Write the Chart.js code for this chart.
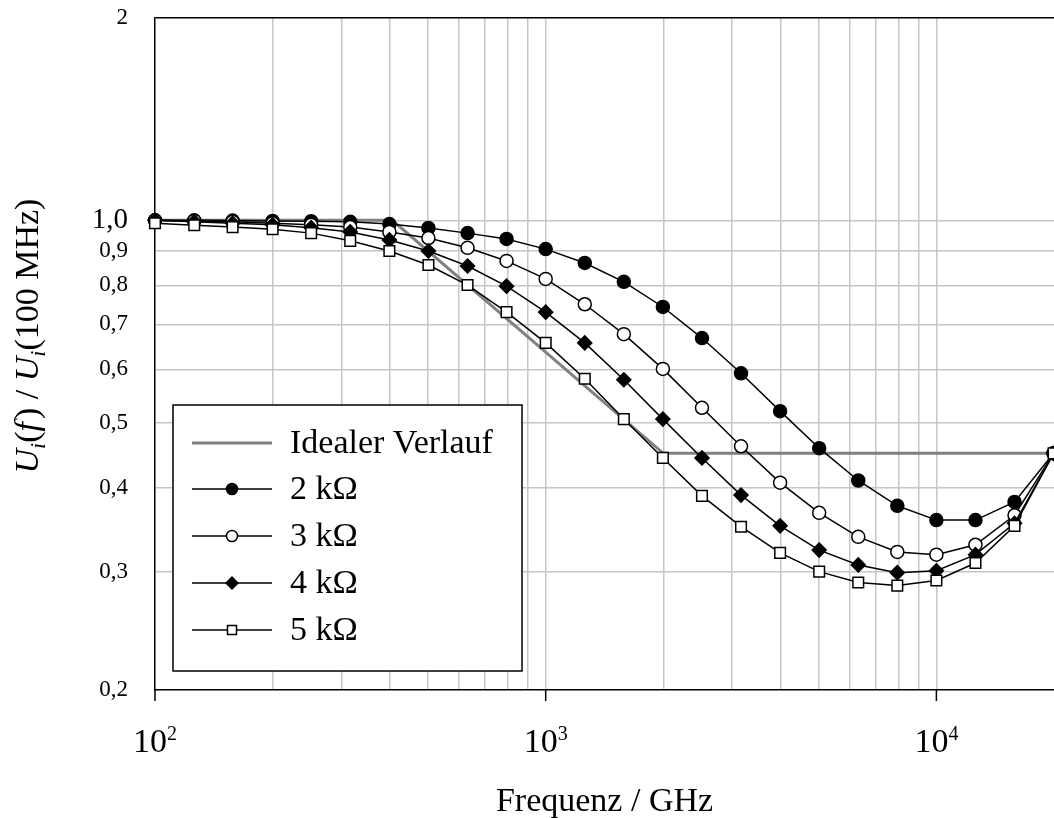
<!DOCTYPE html>
<html>
<head>
<meta charset="utf-8">
<script src="https://cdn.jsdelivr.net/npm/chart.js@4.4.1/dist/chart.umd.min.js"></script>
<style>
  html, body { margin: 0; padding: 0; background: #fff; overflow: hidden; }
  #wrap { width: 1054px; height: 818px; position: relative; }
</style>
</head>
<body>
<div id="wrap"><canvas id="chart"></canvas></div>
<script>
// Messfrequenzen (GHz), 10 Punkte pro Dekade
const freq = [100, 126, 158, 200, 251, 316, 398, 501, 631, 794,
              1000, 1259, 1585, 1995, 2512, 3162, 3981, 5012, 6310, 7943,
              10000, 12589, 15849, 19953];

// Ui(f) / Ui(100 MHz) je Lastwiderstand
const r2k = [1.000, 1.000, 0.999, 0.998, 0.997, 0.995, 0.987, 0.974, 0.957, 0.938,
             0.906, 0.864, 0.810, 0.743, 0.668, 0.592, 0.520, 0.458, 0.410, 0.376,
             0.358, 0.358, 0.381, 0.450];
const r3k = [1.000, 0.998, 0.995, 0.990, 0.985, 0.977, 0.961, 0.941, 0.910, 0.870,
             0.818, 0.750, 0.677, 0.601, 0.526, 0.461, 0.407, 0.367, 0.338, 0.321,
             0.318, 0.329, 0.364, 0.450];
const r4k = [1.000, 0.995, 0.990, 0.985, 0.975, 0.961, 0.935, 0.900, 0.855, 0.798,
             0.730, 0.657, 0.579, 0.506, 0.443, 0.390, 0.351, 0.323, 0.307, 0.299,
             0.301, 0.318, 0.354, 0.450];
const r5k = [0.990, 0.983, 0.977, 0.970, 0.957, 0.932, 0.900, 0.858, 0.801, 0.730,
             0.657, 0.581, 0.506, 0.443, 0.389, 0.350, 0.320, 0.300, 0.289, 0.286,
             0.291, 0.309, 0.351, 0.450];

// Idealer Verlauf (Eckpunkte)
const idealFreq = [100, 405, 2000, 20000];
const idealVal = [1, 1, 0.45, 0.45];

// Achsen
const xGrid = [100, 200, 300, 400, 500, 600, 700, 800, 900,
               1000, 2000, 3000, 4000, 5000, 6000, 7000, 8000, 9000,
               10000, 20000];
const xMajor = [100, 1000, 10000];
const yTicks = [0.2, 0.3, 0.4, 0.5, 0.6, 0.7, 0.8, 0.9, 1.0, 2];

const serif = '"Liberation Serif", "Times New Roman", serif';
const gridGray = '#c6c6c6';

function pts(xs, ys) {
    return xs.map((x, i) => ({ x: x, y: ys[i] }));
}

function series(label, values, style, radius, fill, order) {
    return {
        label: label,
        data: pts(freq, values),
        borderColor: '#000',
        borderWidth: 1.5,
        pointStyle: style,
        pointRadius: radius,
        pointBackgroundColor: fill,
        pointBorderColor: '#000',
        pointBorderWidth: 1.5,
        tension: 0,
        clip: false,
        order: order
    };
}

function marker(ctx, style, x, y, r, fill) {
    ctx.beginPath();
    if (style === 'circle') {
        ctx.arc(x, y, r, 0, Math.PI * 2);
    } else if (style === 'rectRot') {
        ctx.moveTo(x - r, y);
        ctx.lineTo(x, y - r);
        ctx.lineTo(x + r, y);
        ctx.lineTo(x, y + r);
        ctx.closePath();
    } else {
        const s = r * Math.SQRT1_2;
        ctx.rect(x - s, y - s, 2 * s, 2 * s);
    }
    ctx.fillStyle = fill;
    ctx.fill();
    ctx.stroke();
}

// Text aus Stücken (kursiv / tiefgestellt)
function drawRich(ctx, parts, cx, baseY, size) {
    const fontOf = p => (p.it ? 'italic ' : '') + (p.sub ? Math.round(size * 0.66) : size) + 'px ' + serif;
    let total = 0;
    parts.forEach(p => { ctx.font = fontOf(p); total += ctx.measureText(p.t).width + (p.gap || 0); });
    let x = cx - total / 2;
    ctx.textAlign = 'left';
    ctx.textBaseline = 'alphabetic';
    parts.forEach(p => {
        ctx.font = fontOf(p);
        ctx.fillText(p.t, x, baseY + (p.sub ? size * 0.22 : 0));
        x += ctx.measureText(p.t).width + (p.gap || 0);
    });
}

const decor = {
    id: 'decor',
    afterDraw(chart) {
        const ctx = chart.ctx;
        const xs = chart.scales.x;
        const area = chart.chartArea;
        ctx.save();

        // Hauptstriche unter der x-Achse
        ctx.strokeStyle = '#000';
        ctx.lineWidth = 1.5;
        xMajor.forEach(v => {
            const px = xs.getPixelForValue(v);
            ctx.beginPath();
            ctx.moveTo(px, area.bottom);
            ctx.lineTo(px, area.bottom + 11);
            ctx.stroke();
        });

        // Beschriftung 10^n
        ctx.fillStyle = '#000';
        ctx.textAlign = 'left';
        ctx.textBaseline = 'alphabetic';
        xMajor.forEach(v => {
            const px = xs.getPixelForValue(v);
            const sup = String(Math.round(Math.log10(v)));
            ctx.font = '34px ' + serif;
            const w1 = ctx.measureText('10').width;
            ctx.font = '20px ' + serif;
            const w2 = ctx.measureText(sup).width;
            const x0 = px - (w1 + w2) / 2;
            ctx.font = '34px ' + serif;
            ctx.fillText('10', x0, area.bottom + 62);
            ctx.font = '20px ' + serif;
            ctx.fillText(sup, x0 + w1, area.bottom + 50);
        });

        // x-Titel
        drawRich(ctx, [{ t: 'Frequenz / GHz' }], (area.left + area.right) / 2, area.bottom + 121, 34);

        // y-Titel
        ctx.save();
        ctx.translate(38, 336);
        ctx.rotate(-Math.PI / 2);
        drawRich(ctx, [
            { t: 'U', it: true }, { t: 'i', it: true, sub: true }, { t: '(' },
            { t: 'f', it: true, gap: 3 }, { t: ') / ' },
            { t: 'U', it: true }, { t: 'i', it: true, sub: true }, { t: '(100 MHz)' }
        ], 0, 0, 34);
        ctx.restore();

        // Legende
        const bx = 173, by = 405, bw = 349, bh = 266;
        ctx.fillStyle = '#fff';
        ctx.fillRect(bx, by, bw, bh);
        ctx.strokeStyle = '#000';
        ctx.lineWidth = 1.5;
        ctx.strokeRect(bx, by, bw, bh);

        const rowY = [443, 489, 536, 583, 630];
        chart.data.datasets.forEach((ds, i) => {
            const y = rowY[i];
            ctx.strokeStyle = ds.borderColor;
            ctx.lineWidth = ds.borderWidth;
            ctx.beginPath();
            ctx.moveTo(192, y);
            ctx.lineTo(272, y);
            ctx.stroke();
            if (ds.pointRadius > 0) {
                ctx.strokeStyle = '#000';
                ctx.lineWidth = 1.5;
                marker(ctx, ds.pointStyle, 232, y, ds.pointRadius * 0.85, ds.pointBackgroundColor);
            }
            ctx.fillStyle = '#000';
            ctx.font = '34px ' + serif;
            ctx.textAlign = 'left';
            ctx.textBaseline = 'middle';
            ctx.fillText(ds.label, 290, y + 1);
        });

        ctx.restore();
    }
};

new Chart(document.getElementById('chart'), {
    type: 'line',
    data: {
        datasets: [
            {
                label: 'Idealer Verlauf',
                data: pts(idealFreq, idealVal),
                borderColor: '#808080',
                borderWidth: 3,
                pointRadius: 0,
                tension: 0,
                clip: false,
                order: 5
            },
            series('2 kΩ', r2k, 'circle', 6.5, '#000', 4),
            series('3 kΩ', r3k, 'circle', 6.5, '#fff', 3),
            series('4 kΩ', r4k, 'rectRot', 7, '#000', 2),
            series('5 kΩ', r5k, 'rect', 7.5, '#fff', 1)
        ]
    },
    options: {
        responsive: true,
        maintainAspectRatio: false,
        animation: false,
        layout: { autoPadding: false, padding: { top: 18, right: 0, bottom: 0, left: 0 } },
        plugins: {
            legend: { display: false },
            tooltip: { enabled: false }
        },
        scales: {
            x: {
                type: 'logarithmic',
                min: 100,
                max: 20000,
                afterBuildTicks: s => { s.ticks = xGrid.map(v => ({ value: v })); },
                afterFit: s => {
                    s.height = 128;
                    s.paddingLeft = 0;
                    s.paddingRight = 0;
                },
                ticks: { display: false },
                grid: {
                    drawTicks: false,
                    lineWidth: 1.5,
                    color: c => {
                        const v = c.tick && c.tick.value;
                        return (v === 100 || v === 20000) ? 'rgba(0,0,0,0)' : gridGray;
                    }
                },
                border: { color: '#000', width: 1.5 }
            },
            y: {
                type: 'logarithmic',
                min: 0.2,
                max: 2,
                afterBuildTicks: s => { s.ticks = yTicks.map(v => ({ value: v })); },
                afterFit: s => {
                    s.width = 155;
                    s.paddingTop = 0;
                    s.paddingBottom = 0;
                },
                ticks: {
                    autoSkip: false,
                    padding: 27,
                    color: '#000',
                    font: c => ({ family: serif, size: (c.tick && c.tick.value === 1) ? 29 : 23 }),
                    callback: v => v === 2 ? '2' : v.toFixed(1).replace('.', ',')
                },
                grid: {
                    drawTicks: false,
                    lineWidth: 1.5,
                    color: c => {
                        const v = c.tick && c.tick.value;
                        if (v === 2) return '#000';
                        if (v === 0.2) return 'rgba(0,0,0,0)';
                        return gridGray;
                    }
                },
                border: { color: '#000', width: 1.5 }
            }
        }
    },
    plugins: [decor]
});
</script>
</body>
</html>
